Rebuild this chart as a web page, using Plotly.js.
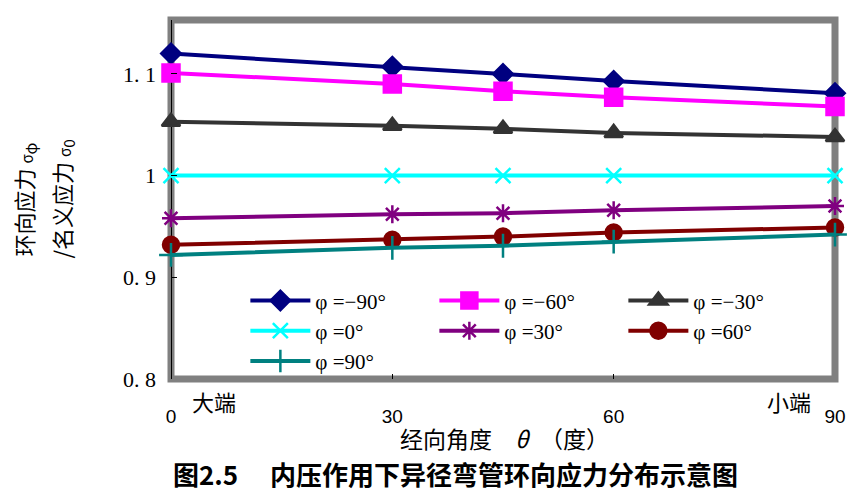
<!DOCTYPE html>
<html>
<head>
<meta charset="utf-8">
<script src="https://cdn.plot.ly/plotly-3.0.1.min.js"></script>
<style>html,body{margin:0;padding:0;background:#fff;}#chart{width:861px;height:504px;}</style>
</head>
<body>
<div id="chart"></div>
<script>
const angles = [0, 30, 45, 60, 90];
const seriesNames = ["φ =−90°", "φ =−60°", "φ =−30°", "φ =0°", "φ =30°", "φ =60°", "φ =90°"];
const phiM90 = [1.120, 1.107, 1.100, 1.093, 1.081];
const phiM60 = [1.101, 1.090, 1.083, 1.077, 1.068];
const phiM30 = [1.053, 1.049, 1.046, 1.042, 1.038];
const phi0   = [1.000, 1.000, 1.000, 1.000, 1.000];
const phi30  = [0.958, 0.962, 0.963, 0.966, 0.970];
const phi60  = [0.932, 0.937, 0.940, 0.944, 0.949];
const phi90  = [0.922, 0.929, 0.931, 0.935, 0.942];
const yTickVals = [0.8, 0.9, 1.0, 1.1];
const yTickText = ["0. 8", "0. 9", "1", "1. 1"];
const xTickVals = [0, 30, 60, 90];
const xTickText = ["0", "30", "60", "90"];

const seriesData = [phiM90, phiM60, phiM30, phi0, phi30, phi60, phi90];
const colors = ["#000080", "#ff00ff", "#333333", "#00ffff", "#800080", "#800000", "#008080"];
const symbols = ["diamond", "square", "triangle-up", "x-thin-open", "asterisk-open", "circle", "cross-thin-open"];
const sizes = [15, 17, 16, 15, 15, 16, 17];

const traces = seriesData.map((d, i) => ({
  x: angles, y: d, type: "scatter", mode: "lines+markers", name: seriesNames[i],
  cliponaxis: false,
  line: {color: colors[i], width: 4},
  marker: {symbol: symbols[i], size: sizes[i], color: colors[i], line: {color: colors[i], width: 2.5}}
}));

const serifFont = "Liberation Serif, DejaVu Serif, serif";
const cjkFont = "Noto Sans CJK SC";

const layout = {
  width: 861, height: 504,
  margin: {l: 171, r: 26, t: 20, b: 125},
  paper_bgcolor: "#fff", plot_bgcolor: "#fff",
  showlegend: true,
  legend: {
    orientation: "h", x: 0.112, y: 0.275, xanchor: "left", yanchor: "top",
    entrywidth: 114, entrywidthmode: "pixels", itemwidth: 60,
    bgcolor: "rgba(0,0,0,0)",
    font: {family: serifFont, size: 21, color: "#000"},
    tracegroupgap: 0
  },
  xaxis: {
    range: [0, 90], tickvals: xTickVals, ticktext: xTickText,
    ticks: "inside", ticklen: 5, tickcolor: "#000", showgrid: false, zeroline: false,
    showline: false, ticklabelstandoff: 24,
    tickfont: {family: "Liberation Sans, Arial", size: 19, color: "#000"}
  },
  yaxis: {
    range: [0.8, 1.153], tickvals: yTickVals, ticktext: yTickText,
    ticks: "inside", ticklen: 6, tickcolor: "#000", showgrid: false, zeroline: false,
    showline: false, ticklabelstandoff: 14,
    tickfont: {family: serifFont, size: 22, color: "#000"}
  },
  shapes: [
    {type: "rect", xref: "paper", yref: "paper", x0: 0, x1: 1, y0: 0, y1: 1,
     line: {color: "#808080", width: 7}, layer: "below"},
    {type: "line", xref: "x", yref: "paper", x0: 0, x1: 0, y0: 0, y1: 1,
     line: {color: "#000", width: 2}, layer: "below"}
  ],
  annotations: [
    {text: "大端", xref: "x", yref: "paper", x: 2.6, y: -0.06, xanchor: "left", yanchor: "middle",
     showarrow: false, font: {family: cjkFont, size: 22, color: "#000"}},
    {text: "小端", xref: "x", yref: "paper", x: 83.7, y: -0.06, xanchor: "center", yanchor: "middle",
     showarrow: false, font: {family: cjkFont, size: 22, color: "#000"}},
    {text: "经向角度　<i>θ</i>　（度）", xref: "paper", yref: "paper", x: 0.503, y: -0.165,
     xanchor: "center", yanchor: "middle", showarrow: false,
     font: {family: cjkFont, size: 23, color: "#000"}},
    {text: "<b>图2.5　 内压作用下异径弯管环向应力分布示意图</b>", xref: "paper", yref: "paper",
     x: 0.435, y: -0.263, xanchor: "center", yanchor: "middle", showarrow: false,
     font: {family: cjkFont, size: 26, color: "#000"}},
    {text: "环向应力 <span style='font-size:15px'>σ</span><sub>φ</sub>", xref: "paper", yref: "paper", x: -0.22, y: 0.5,
     xanchor: "center", yanchor: "middle", textangle: -90, showarrow: false,
     font: {family: cjkFont, size: 22, color: "#000"}},
    {text: "/名义应力 <span style='font-size:15px'>σ</span><sub>0</sub>", xref: "paper", yref: "paper", x: -0.165, y: 0.5,
     xanchor: "center", yanchor: "middle", textangle: -90, showarrow: false,
     font: {family: cjkFont, size: 22, color: "#000"}}
  ]
};
layout.annotations[3].x = (455 - 171) / 664;
layout.annotations[4].x = (24 - 171) / 664;
layout.annotations[5].x = (62 - 171) / 664;

Plotly.newPlot("chart", traces, layout, {displayModeBar: false, staticPlot: true});
</script>
</body>
</html>
